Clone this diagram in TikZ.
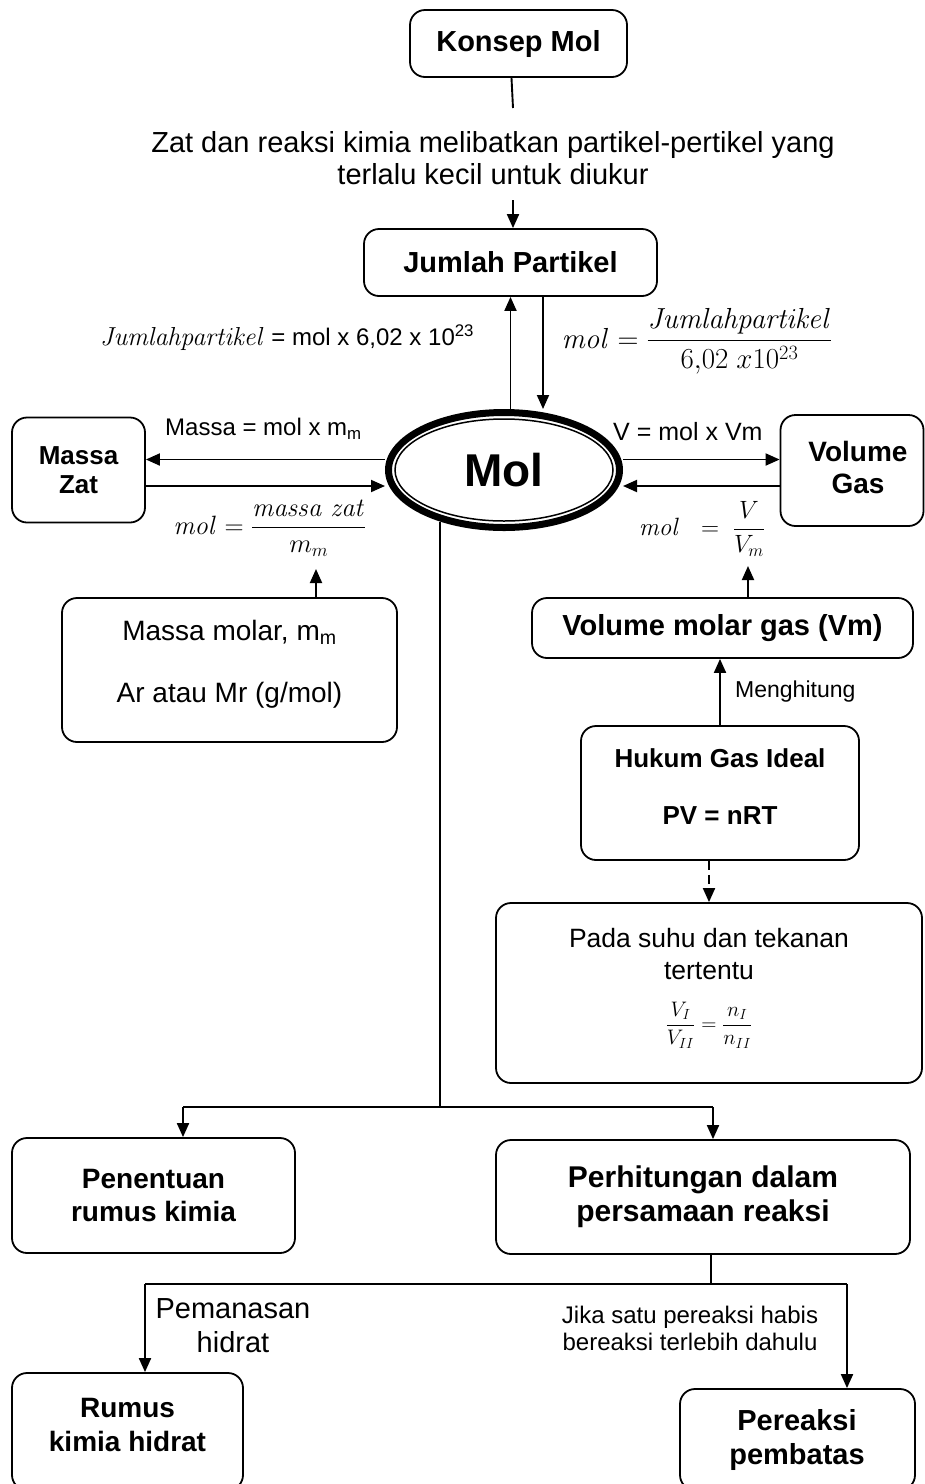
\RequirePackage{fix-cm}
\documentclass[tikz,border=0pt]{standalone}
\usepackage{amsmath}
\usepackage[no-math]{fontspec}
\setmainfont{Liberation Sans}
\usetikzlibrary{arrows.meta,shapes.geometric,calc}
\newcommand{\fsz}[2]{\fontsize{#1}{#2}\selectfont}
\begin{document}
\begin{tikzpicture}[x=1pt,y=-1pt,
  box/.style={draw, rounded corners=15pt, line width=1.8pt, align=center, inner sep=0pt, font=\bfseries\fsz{28}{33}},
  conn/.style={line width=1.9pt},
  arr/.style={conn, -{Triangle[length=14pt,width=12pt]}},
  lbl/.style={inner sep=0pt, align=center},
]
\useasboundingbox (0,0) rectangle (925,1484);
\clip (0,0) rectangle (925,1484);

% ---------- nodes ----------
\node[box, minimum width=217pt, minimum height=67pt, font=\bfseries\fsz{29}{33}] (konsep) at (518.5,43.5) {Konsep Mol};
\node[lbl, font=\fsz{29}{32}] (zat) at (493,158) {Zat dan reaksi kimia melibatkan partikel-pertikel yang\\terlalu kecil untuk diukur};
\coordinate (zatin) at (513,108);
\coordinate (zatout) at (513,200);
\node[box, minimum width=293pt, minimum height=67pt, font=\bfseries\fsz{29}{33}] (jumlah) at (510.5,262.5) {Jumlah Partikel};

\node[draw, ellipse, line width=7pt, minimum width=231pt, minimum height=115pt, inner sep=0pt, font=\bfseries\fsz{46}{50}] (mol) at (504,470) {Mol};
\draw[line width=1.5pt] (mol.center) ellipse [x radius=109pt, y radius=51pt];

\node[box, minimum width=133pt, minimum height=105pt, font=\bfseries\fsz{26}{29}] (massazat) at (78.5,470) {Massa\\Zat};
\node[box, minimum width=143pt, minimum height=111pt] (volgas) at (852,470.5) {};
\node[lbl, font=\bfseries\fsz{28}{32}] (volgastxt) at (858,467) {Volume\\Gas};

\node[lbl, anchor=west, font=\fsz{24}{28}] (jp1) at (100,338) {{\fsz{26}{28}$\mathit{Jumlahpartikel}$} = mol x 6,02 x 10\textsuperscript{23}};
\node[lbl, font=\fsz{29}{32}] (jp2) at (697,341) {$\mathit{mol} = \dfrac{\mathit{Jumlahpartikel}}{6{,}02\ x10^{23}}$};

\node[lbl, anchor=west, font=\fsz{24}{28}] (lm1) at (165,429) {Massa = mol x m\textsubscript{m}};
\node[lbl, font=\fsz{26.5}{30}] (lm2) at (270,528) {$\mathit{mol} = \dfrac{\mathit{massa\ zat}}{m_m}$};
\node[lbl, anchor=west, font=\fsz{25}{28}] (lv1) at (613,432) {V = mol x Vm};
\node[lbl, font=\fsz{25}{28}] (lv2) at (702,529) {$\mathit{mol}\ \ =\ \dfrac{V}{V_m}$};

\node[box, minimum width=335pt, minimum height=144pt] (massamolar) at (229.5,670) {};
\node[lbl, font=\fsz{28}{62}] (massamolartxt) at (229.5,664) {Massa molar, m\textsubscript{m}\\Ar atau Mr (g/mol)};
\coordinate (mmtip) at (316,569);

\node[box, minimum width=381pt, minimum height=60pt, font=\bfseries\fsz{29}{33}] (volmolar) at (722.5,628) {Volume molar gas (Vm)};
\coordinate (vmtip) at (748,566);

\node[box, minimum width=278pt, minimum height=134pt] (hukum) at (720,793) {};
\node[lbl, font=\bfseries\fsz{26}{57}] (hukumtxt) at (720,787) {Hukum Gas Ideal\\PV = nRT};
\node[lbl, anchor=west, font=\fsz{23}{27}] (meng) at (735,692) {Menghitung};

\node[box, minimum width=426pt, minimum height=180pt] (pada) at (709,993) {};
\node[lbl, font=\fsz{26.5}{32}] (padatxt) at (709,954) {Pada suhu dan tekanan\\tertentu};
\node[lbl, font=\fsz{21}{24}] (padaf) at (709,1025) {$\dfrac{V_I}{V_{II}} = \dfrac{n_I}{n_{II}}$};

\node[box, minimum width=283pt, minimum height=115pt] (penentuan) at (153.5,1195.5) {Penentuan\\rumus kimia};
\node[box, minimum width=414pt, minimum height=114pt, font=\bfseries\fsz{30}{34}] (perhitungan) at (703,1197) {Perhitungan dalam\\persamaan reaksi};

\node[box, minimum width=231pt, minimum height=117pt] (rumus) at (127.5,1431.5) {};
\node[lbl, font=\bfseries\fsz{28}{34}] (rumustxt) at (127.5,1425) {Rumus\\kimia hidrat};
\node[box, minimum width=235pt, minimum height=101pt] (pereaksi) at (797.5,1439.5) {};
\node[lbl, font=\bfseries\fsz{29}{34}] (pereaksitxt) at (797,1440) {Pereaksi\\pembatas};

\node[lbl, font=\fsz{29}{34}] (pemanasan) at (233,1326) {Pemanasan\\hidrat};
\node[lbl, font=\fsz{24}{27}] (jika) at (690,1328) {Jika satu pereaksi habis\\bereaksi terlebih dahulu};

% ---------- connectors ----------
\draw[conn] ([xshift=-7pt]konsep.south) -- (zatin);
\draw[arr] (zatout) -- (zatout |- jumlah.north);

\coordinate (jd) at (543,0);
\draw[arr] (mol.north -| jumlah.south) -- (jumlah.south);
\draw[arr] (jumlah.south -| jd) -- (mol.north -| jd);

\coordinate (ya) at (0,459.5);
\coordinate (yb) at (0,486);
\draw[arr] (mol.west |- ya) -- (massazat.east |- ya);
\draw[arr] (massazat.east |- yb) -- (mol.west |- yb);
\draw[arr] (mol.east |- ya) -- (volgas.west |- ya);
\draw[arr] (volgas.west |- yb) -- (mol.east |- yb);

\draw[arr] (massamolar.north -| mmtip) -- (mmtip);
\draw[arr] (volmolar.north -| vmtip) -- (vmtip);
\draw[arr] (hukum.north) -- (hukum.north |- volmolar.south);
\draw[arr, dash pattern=on 9pt off 5pt] (hukum.south -| pada.north) -- (pada.north);

\coordinate (split) at (mol.219 |- 0,1107);
\coordinate (sl) at (183,1107);
\coordinate (sr) at (713,1107);
\draw[conn] (mol.219) -- (split);
\draw[conn, line width=1.5pt] (sl) -- (sr);
\draw[arr] (sl) -- (sl |- penentuan.north);
\draw[arr] (sr) -- (sr |- perhitungan.north);

\coordinate (j2) at (711,1284);
\coordinate (bl) at (145,1284);
\coordinate (br) at (847,1284);
\draw[conn, line width=1.5pt] (j2 |- perhitungan.south) -- (j2);
\draw[conn, line width=1.5pt] (bl) -- (br);
\draw[arr] (bl) -- (bl |- rumus.north);
\draw[arr] (br) -- (br |- pereaksi.north);
\end{tikzpicture}
\end{document}
